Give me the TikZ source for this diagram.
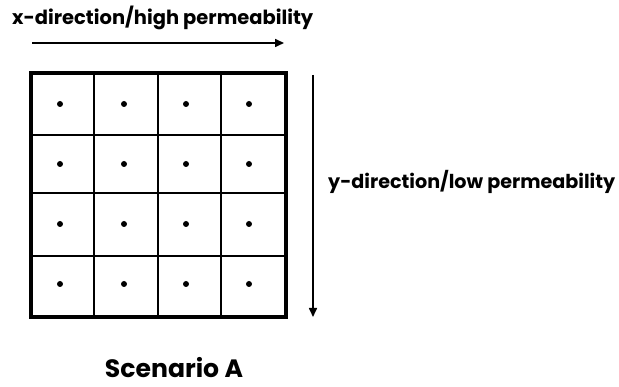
\documentclass[tikz,border=0pt]{standalone}
\usepackage{fontspec}
\setmainfont{Poppins}
\usetikzlibrary{arrows.meta}
\begin{document}
\begin{tikzpicture}[x=1pt,y=1pt,
  lbl/.style={font=\fontsize{14}{16}\selectfont\bfseries, inner sep=0pt},
  dir/.style={line width=1.6pt, -{Triangle[length=9pt,width=8pt]}},
  grid line/.style={line width=1.5pt},
  cell dot/.style={circle, fill=black, inner sep=0pt, minimum size=6pt}]
\useasboundingbox (0,0) rectangle (619,387);
% grid
\coordinate (sw) at (31,70);
\coordinate (ne) at (286,314);
\foreach \x in {94,158,221} \draw[grid line] (\x,70) -- (\x,314);
\foreach \y in {131,194,252} \draw[grid line] (31,\y) -- (286,\y);
\draw[line width=4.5pt] (sw) rectangle (ne);
\foreach \x [count=\i] in {60,124,186,249}
  \foreach \y [count=\j] in {283,223,163,103}
    \node[cell dot] (d\i\j) at (\x,\y) {};
% arrows
\coordinate (xa) at (32,344);
\coordinate (xb) at (284,344);
\draw[dir] (xa) -- (xb);
\coordinate (ya) at (313,312);
\coordinate (yb) at (313,70);
\draw[dir] (ya) -- (yb);
% labels
\node[lbl, anchor=west] (xl) at (12,369) {\resizebox{301pt}{!}{x-direction/high permeability}};
\node[lbl, anchor=west] (yl) at (328,205) {\resizebox{287pt}{!}{y-direction/low permeability}};
\node[lbl, anchor=base] (sc) at (174,9) {\resizebox{138pt}{!}{Scenario A}};
\end{tikzpicture}
\end{document}
